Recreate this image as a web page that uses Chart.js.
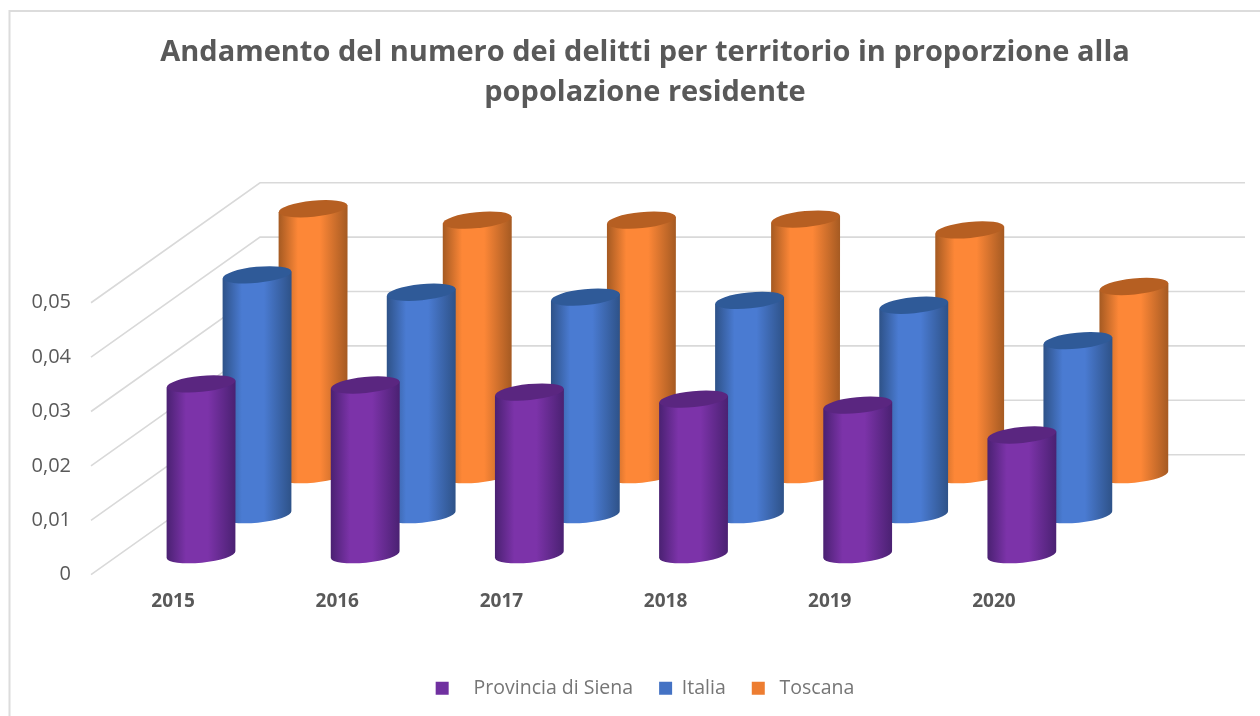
<!DOCTYPE html>
<html>
<head>
<meta charset="utf-8">
<title>Delitti per territorio</title>
<script src="https://cdn.jsdelivr.net/npm/chart.js@4/dist/chart.umd.js"></script>
<style>
    html, body { margin: 0; padding: 0; background: #fff; }
    canvas { display: block; }
</style>
</head>
<body>
<canvas id="chart" width="1260" height="716"></canvas>
<script>
let years = ["2015", "2016", "2017", "2018", "2019", "2020"]
let siena = [0.0314, 0.0312, 0.0299, 0.0286, 0.0275, 0.0220]
let italia = [0.0441, 0.0409, 0.0400, 0.0394, 0.0385, 0.0320]
let toscana = [0.0489, 0.0468, 0.0468, 0.0470, 0.0450, 0.0346]
let yticklabels = ["0", "0,01", "0,02", "0,03", "0,04", "0,05"]
let titlelines = ["Andamento del numero dei delitti per territorio in proporzione alla", "popolazione residente"]

// dark edge, light middle, cap
let shades = [
    ["#4a2172", "#7c33a9", "#5a2680"],
    ["#2e5288", "#4a7bd2", "#2f5a98"],
    ["#a55a22", "#fd8737", "#b65f22"]
]

// fake 3d: how far back each series and the back wall sit
let wallx = 169
let wally = 120
let tilt = -0.1
let capry = 8

function drawcylinder(ctx, el, i) {
    let cx = el.x + 28 + 56 * i
    let top = el.y - 20 - 40 * i
    let bot = el.base - 20 - 40 * i
    let rx = el.width / 2
    let slant = rx * Math.sin(tilt)

    let grad = ctx.createLinearGradient(cx - rx, 0, cx + rx, 0)
    grad.addColorStop(0, shades[i][0])
    grad.addColorStop(0.28, shades[i][1])
    grad.addColorStop(0.6, shades[i][1])
    grad.addColorStop(1, shades[i][0])

    ctx.beginPath()
    ctx.moveTo(cx - rx, top - slant)
    ctx.lineTo(cx - rx, bot - slant)
    ctx.ellipse(cx, bot, rx, capry, tilt, Math.PI, 0, true)
    ctx.lineTo(cx + rx, top + slant)
    ctx.closePath()
    ctx.fillStyle = grad
    ctx.fill()

    ctx.beginPath()
    ctx.ellipse(cx, top, rx, capry, tilt, 0, Math.PI * 2)
    ctx.fillStyle = shades[i][2]
    ctx.fill()
}

let cylinders = {
    id: "cylinders",
    beforeDraw(chart) {
        let ctx = chart.ctx
        ctx.save()
        ctx.strokeStyle = "#dcdcdc"
        ctx.lineWidth = 2
        ctx.beginPath()
        ctx.moveTo(9.5, 716)
        ctx.lineTo(9.5, 11)
        ctx.lineTo(1260, 11)
        ctx.stroke()
        ctx.restore()
    },
    beforeDatasetsDraw(chart) {
        let ctx = chart.ctx
        let area = chart.chartArea
        let yscale = chart.scales.y
        ctx.save()
        ctx.strokeStyle = "#d9d9d9"
        ctx.lineWidth = 1.6
        for (let tick of yscale.ticks) {
            let y = yscale.getPixelForValue(tick.value)
            ctx.beginPath()
            ctx.moveTo(area.left, y)
            ctx.lineTo(area.left + wallx, y - wally)
            ctx.lineTo(area.right + wallx, y - wally)
            ctx.stroke()
        }
        ctx.restore()
    },
    beforeDatasetDraw(chart, args) {
        let ctx = chart.ctx
        ctx.save()
        for (let el of args.meta.data) {
            drawcylinder(ctx, el, args.index)
        }
        ctx.restore()
        return false
    }
}

new Chart(document.getElementById("chart"), {
    type: "bar",
    data: {
        labels: years,
        datasets: [
            { label: "Provincia di Siena", data: siena, backgroundColor: "#7030a0" },
            { label: "Italia", data: italia, backgroundColor: "#4472c4" },
            { label: "Toscana", data: toscana, backgroundColor: "#ed7d31" }
        ]
    },
    plugins: [cylinders],
    options: {
        responsive: false,
        animation: false,
        grouped: false,
        categoryPercentage: 1,
        barPercentage: 0.42,
        layout: { padding: { left: 30, right: 0, top: 0, bottom: 8 } },
        plugins: {
            tooltip: { enabled: false },
            title: {
                display: true,
                text: titlelines,
                color: "#595959",
                font: { family: "'Open Sans'", size: 29, weight: "bold", lineHeight: 1.38 },
                padding: { top: 32.5, bottom: 190.2 }
            },
            legend: {
                position: "bottom",
                labels: {
                    color: "#767676",
                    font: { family: "'Open Sans'", size: 19.5 },
                    boxWidth: 13,
                    boxHeight: 13,
                    padding: 26,
                    generateLabels(chart) {
                        let items = Chart.defaults.plugins.legend.labels.generateLabels(chart)
                        items[0].text = "   " + items[0].text
                        items[2].text = " " + items[2].text
                        items.forEach(it => { it.lineWidth = 0 })
                        return items
                    }
                }
            }
        },
        scales: {
            x: {
                grid: { display: false, drawTicks: false },
                border: { display: false },
                ticks: {
                    color: "#595959",
                    font: { family: "'Open Sans'", size: 19, weight: "bold" },
                    padding: 15,
                    maxRotation: 0
                },
                afterFit(s) { s.height = 77.8 }
            },
            y: {
                min: 0,
                max: 0.05,
                grid: { display: false, drawTicks: false },
                border: { display: false },
                ticks: {
                    stepSize: 0.01,
                    color: "#595959",
                    font: { family: "'Open Sans'", size: 20 },
                    padding: 20,
                    callback: (v, i) => yticklabels[i]
                },
                afterFit(s) { s.width = 61 }
            },
            // empty axis, holds the room the back wall needs on the right
            wall: {
                type: "linear",
                position: "right",
                grid: { display: false },
                border: { display: false },
                ticks: { display: false },
                afterFit(s) { s.width = 184 }
            }
        }
    }
})
</script>
</body>
</html>
